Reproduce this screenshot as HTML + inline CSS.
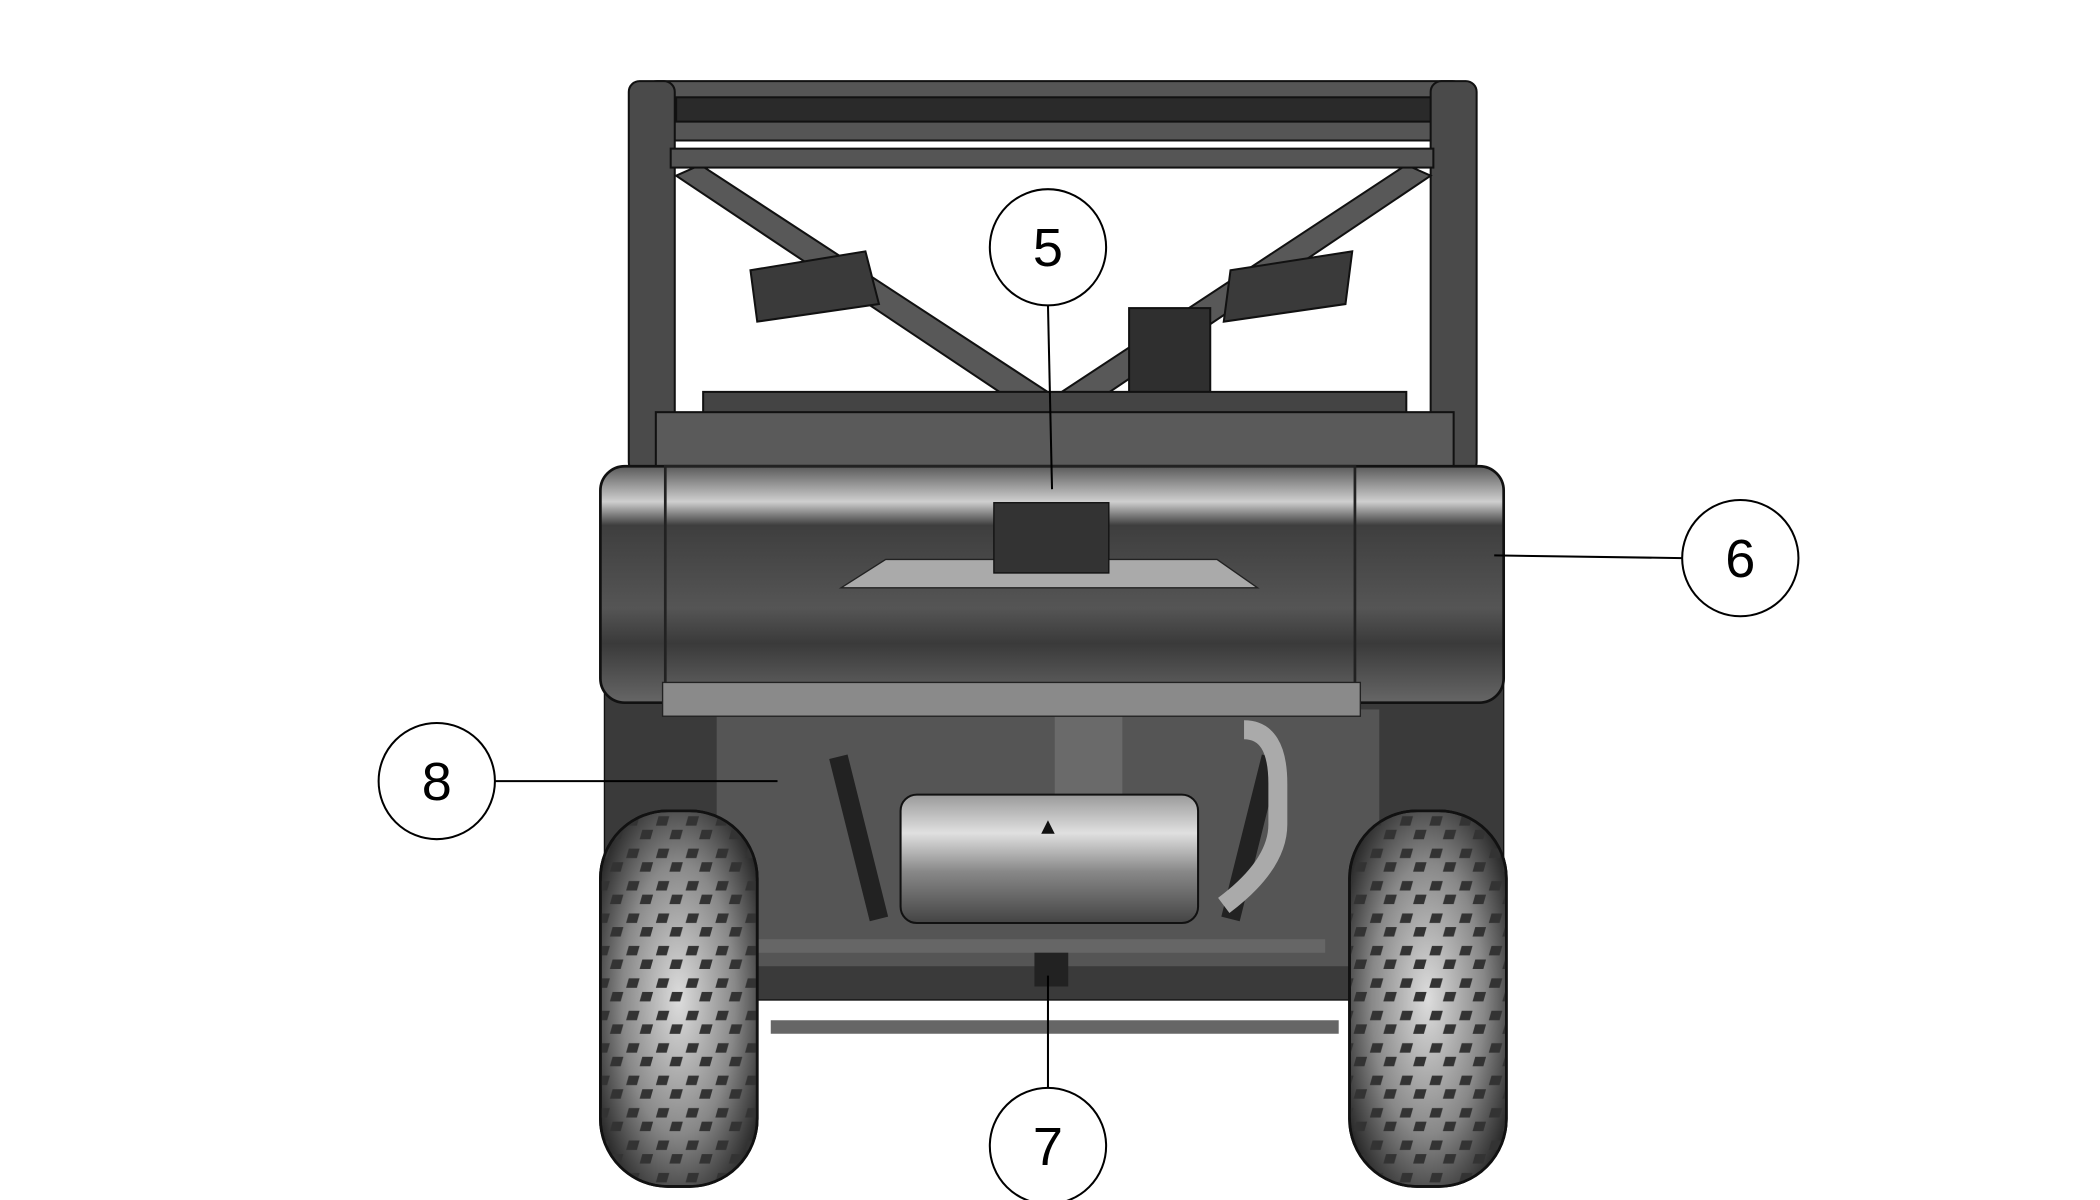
<!DOCTYPE html>
<html><head><meta charset="utf-8"><style>
html,body{margin:0;padding:0;background:#fff;width:2100px;height:1200px;overflow:hidden}
svg{display:block}
text{font-family:"Liberation Sans",sans-serif}
</style></head><body>
<svg width="2100" height="1200" viewBox="0 0 1553 888" preserveAspectRatio="none">
<defs>
<linearGradient id="bed" x1="0" y1="0" x2="0" y2="1">
<stop offset="0" stop-color="#5a5a5a"/><stop offset="0.15" stop-color="#cfcfcf"/><stop offset="0.25" stop-color="#3e3e3e"/><stop offset="0.6" stop-color="#555"/><stop offset="0.75" stop-color="#3a3a3a"/><stop offset="1" stop-color="#666"/>
</linearGradient>
<linearGradient id="muf" x1="0" y1="0" x2="0" y2="1">
<stop offset="0" stop-color="#9a9a9a"/><stop offset="0.3" stop-color="#e0e0e0"/><stop offset="0.6" stop-color="#888"/><stop offset="1" stop-color="#444"/>
</linearGradient>
<radialGradient id="tire" cx="0.5" cy="0.5" r="0.6">
<stop offset="0" stop-color="#ddd"/><stop offset="0.6" stop-color="#888"/><stop offset="1" stop-color="#2a2a2a"/>
</radialGradient>
<pattern id="tread" width="22" height="24" patternUnits="userSpaceOnUse">
<rect width="22" height="24" fill="none"/>
<path d="M3 4 l8 0 l-2 7 l-8 0z M13 14 l8 0 l-2 7 l-8 0z" fill="#333"/>
</pattern>
</defs>
<!-- roll cage -->
<g fill="#3c3c3c" stroke="#111" stroke-width="1.5">
<rect x="476" y="60" width="608" height="44" rx="10" fill="#555"/>
<rect x="500" y="72" width="560" height="18" fill="#2a2a2a"/>
<rect x="465" y="60" width="34" height="290" rx="8" fill="#4a4a4a"/>
<rect x="1058" y="60" width="34" height="290" rx="8" fill="#4a4a4a"/>
<polygon points="500,130 518,122 790,300 772,312" fill="#585858"/>
<polygon points="1058,130 1040,122 770,300 788,312" fill="#585858"/>
<rect x="496" y="110" width="564" height="14" fill="#555"/>
<polygon points="555,200 640,186 650,225 560,238" fill="#3a3a3a"/>
<polygon points="910,200 1000,186 995,225 905,238" fill="#3a3a3a"/>
<rect x="835" y="228" width="60" height="70" fill="#2f2f2f"/>
<rect x="520" y="290" width="520" height="20" fill="#444"/>
<rect x="485" y="305" width="590" height="40" fill="#5a5a5a"/>
</g>
<!-- chassis -->
<rect x="447" y="500" width="665" height="240" fill="#3a3a3a" stroke="#111"/>
<rect x="530" y="525" width="490" height="190" fill="#555"/>
<path d="M620 560 l30 120 M940 560 l-30 120" stroke="#222" stroke-width="14"/>
<path d="M560 700 l420 0 M570 760 l420 0" stroke="#666" stroke-width="10"/>
<path d="M920 540 q25 0 25 40 l0 30 q0 30 -40 60" stroke="#aaa" stroke-width="14" fill="none"/>
<rect x="780" y="530" width="50" height="60" fill="#6a6a6a"/>
<!-- bed -->
<rect x="444" y="345" width="668" height="175" rx="18" fill="url(#bed)" stroke="#111" stroke-width="2"/>
<rect x="492" y="345" width="510" height="178" fill="none" stroke="#222" stroke-width="2"/>
<rect x="490" y="505" width="516" height="25" fill="#8a8a8a" stroke="#222"/>
<polygon points="622,435 655,414 900,414 930,435" fill="#aaa" stroke="#222"/>
<rect x="735" y="372" width="85" height="52" fill="#333" stroke="#111"/>
<!-- muffler -->
<rect x="666" y="588" width="220" height="95" rx="12" fill="url(#muf)" stroke="#111" stroke-width="1.5"/>
<polygon points="775,607 770,617 780,617" fill="#111"/>
<rect x="765" y="705" width="25" height="25" fill="#222"/>
<!-- wheels -->
<g stroke="#111" stroke-width="2">
<rect x="444" y="600" width="116" height="278" rx="50" fill="url(#tire)"/>
<rect x="444" y="600" width="116" height="278" rx="50" fill="url(#tread)"/>
<rect x="998" y="600" width="116" height="278" rx="50" fill="url(#tire)"/>
<rect x="998" y="600" width="116" height="278" rx="50" fill="url(#tread)"/>
</g>
<!-- callouts -->
<g stroke="#000" stroke-width="1.5" fill="#fff">
<line x1="775" y1="226" x2="778" y2="362"/>
<line x1="1244" y1="413" x2="1105" y2="411"/>
<line x1="366" y1="578" x2="575" y2="578"/>
<line x1="775" y1="805" x2="775" y2="722"/>
<circle cx="775" cy="183" r="43"/>
<circle cx="1287" cy="413" r="43"/>
<circle cx="323" cy="578" r="43"/>
<circle cx="775" cy="848" r="43"/>
</g>
<g font-size="40" text-anchor="middle" fill="#000">
<text x="775" y="197">5</text>
<text x="1287" y="427">6</text>
<text x="323" y="592">8</text>
<text x="775" y="862">7</text>
</g>
</svg>
</body></html>
